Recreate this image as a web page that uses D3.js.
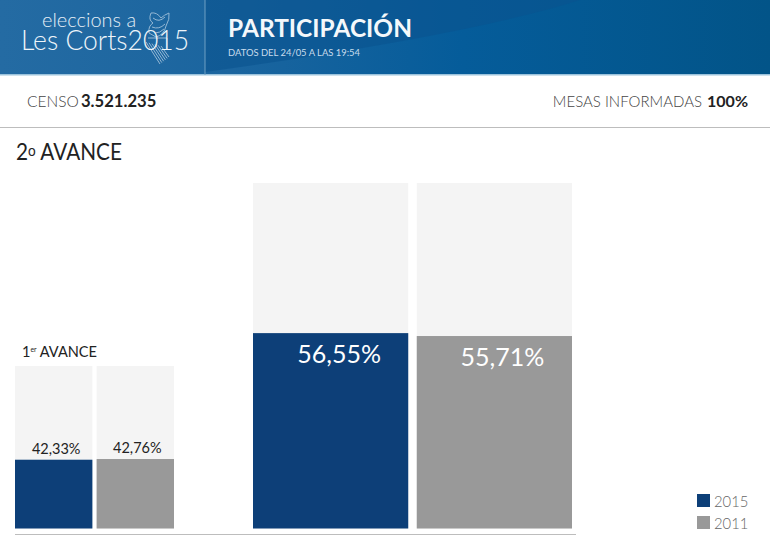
<!DOCTYPE html>
<html><head><meta charset="utf-8">
<script src="https://cdn.jsdelivr.net/npm/d3@7"></script>
<style>html,body{margin:0;padding:0;background:#fff;overflow:hidden}svg{display:block}text{font-family:"Lato","Noto Sans",sans-serif}</style>
</head><body><script>
const years = ["2015","2011"];
const firstAdvance = [42.33, 42.76];
const secondAdvance = [56.55, 55.71];
const firstLabels = ["42,33%","42,76%"];
const secondLabels = ["56,55%","55,71%"];
const colors = ["#0d3f78","#999999"];
const trackColor = "#f4f4f4";

const svg = d3.select("body").append("svg").attr("width",770).attr("height",547);
const defs = svg.append("defs");
const g = defs.append("linearGradient").attr("id","hdr").attr("x1","0").attr("x2","1").attr("y1","0").attr("y2","0");
[[0,"#246ba3"],[0.3,"#1b659f"],[0.6,"#055c9a"],[1,"#025488"]].forEach(d=>g.append("stop").attr("offset",d[0]).attr("stop-color",d[1]));

// header
svg.append("rect").attr("width",770).attr("height",75).attr("fill","url(#hdr)");
svg.append("path").attr("d","M205 0H580Q470 35 205 72Z").attr("fill","#0a5390").attr("opacity",0.6);
svg.append("rect").attr("y",74).attr("width",770).attr("height",1.5).attr("fill","#9cc3dc");
svg.append("rect").attr("x",204.5).attr("width",1).attr("height",75).attr("fill","#6f9fc4");

// crest
const crest = svg.append("g").attr("fill","none").attr("stroke","#a9c6de").attr("stroke-width",1).attr("opacity",0.85);
crest.append("path").attr("d","M151 13Q148 20 153 23Q148 26 149 33L156 37Q164 35 166 26Q170 19 169 13Q164 15 161 18Q157 12 151 13Z");
crest.append("path").attr("d","M153 18Q159 23 165 17M152 27Q159 30 165 24M155 33Q160 33 164 29");
crest.append("path").attr("d","M148 38H167V50");
d3.range(6).forEach(i=>crest.append("path").attr("d",`M${146+i*3} ${42+i*0.8}L${160+i*1.8} ${64-i*1.4}`));

const txt = (x,y,s,size,fill,opt={})=>{
  const t = svg.append("text").attr("x",x).attr("y",y).attr("font-size",size).attr("fill",fill)
    .attr("font-weight",opt.w||400).attr("text-anchor",opt.a||"start").text(s);
  if(opt.len) t.attr("textLength",opt.len).attr("lengthAdjust","spacingAndGlyphs");
  return t;
};
// logo: one two-line text
const logo = svg.append("text").attr("font-weight",300);
logo.append("tspan").attr("x",42).attr("y",27).attr("font-size",20).attr("fill","#e4eef6").text("eleccions a");
logo.append("tspan").attr("x",21).attr("y",50).attr("font-size",26.5).attr("fill","#eef5fa").text("Les Corts2015");

txt(228,37,"PARTICIPACIÓN",25,"#f4f8fb",{w:700,len:184});
txt(228,56,"DATOS DEL 24/05 A LAS 19:54",9.5,"#c8dcec",{len:132});

// info row
txt(27,107,"CENSO",15.5,"#444",{w:300});
txt(81,107,"3.521.235",16.6,"#222",{w:700});
txt(702,107,"MESAS INFORMADAS",15,"#444",{w:300,a:"end"});
txt(748,107,"100%",16,"#222",{w:700,a:"end"});
svg.append("rect").attr("y",127).attr("width",770).attr("height",1).attr("fill","#bdbdbd");

const t2 = txt(16,160,"2",23,"#222",{len:106});
t2.append("tspan").attr("font-size",15).attr("dy",-4).text("o");
t2.append("tspan").attr("dy",4).text(" AVANCE");
const t1 = txt(22,357,"1",15,"#222",{len:75});
t1.append("tspan").attr("font-size",7).attr("dy",-5).text("er");
t1.append("tspan").attr("dy",5).text(" AVANCE");

// panels
const baseY = 528.5;
function panel(values,labels,x0,x1,top,fontSize,labelDy,labelColor,labelXs){
  const x = d3.scaleBand().domain(years).range([x0,x1]).paddingInner(0.052);
  const y = d3.scaleLinear().domain([0,100]).range([baseY,top]);
  const p = svg.append("g");
  p.selectAll("rect.track").data(years).join("rect").attr("class","track")
    .attr("x",d=>x(d)).attr("width",x.bandwidth()).attr("y",top).attr("height",baseY-top).attr("fill",trackColor);
  p.selectAll("rect.val").data(values).join("rect").attr("class","val")
    .attr("x",(d,i)=>x(years[i])).attr("width",x.bandwidth()).attr("y",d=>y(d)).attr("height",d=>baseY-y(d))
    .attr("fill",(d,i)=>colors[i]);
  p.selectAll("text").data(values).join("text")
    .attr("x",(d,i)=>x(years[i])+x.bandwidth()/2+labelXs[i]).attr("y",d=>y(d)+labelDy)
    .attr("text-anchor","middle").attr("font-size",fontSize).attr("fill",labelColor).text((d,i)=>labels[i]);
}
panel(firstAdvance,firstLabels,15,174,366,14.5,-6,"#222",[2.5,2]);
panel(secondAdvance,secondLabels,253,572,183,25,30,"#fff",[8.5,8]);

// baseline
svg.append("rect").attr("x",15).attr("y",534).attr("width",561).attr("height",1).attr("fill","#bdbdbd");

// legend
const leg = d3.scaleBand().domain(years).range([494,538]);
years.forEach((yr,i)=>{
  svg.append("rect").attr("x",697).attr("y",leg(yr)).attr("width",13).attr("height",13).attr("fill",colors[i]);
  txt(714,leg(yr)+13,yr,14.8,"#666",{w:300});
});
</script></body></html>
